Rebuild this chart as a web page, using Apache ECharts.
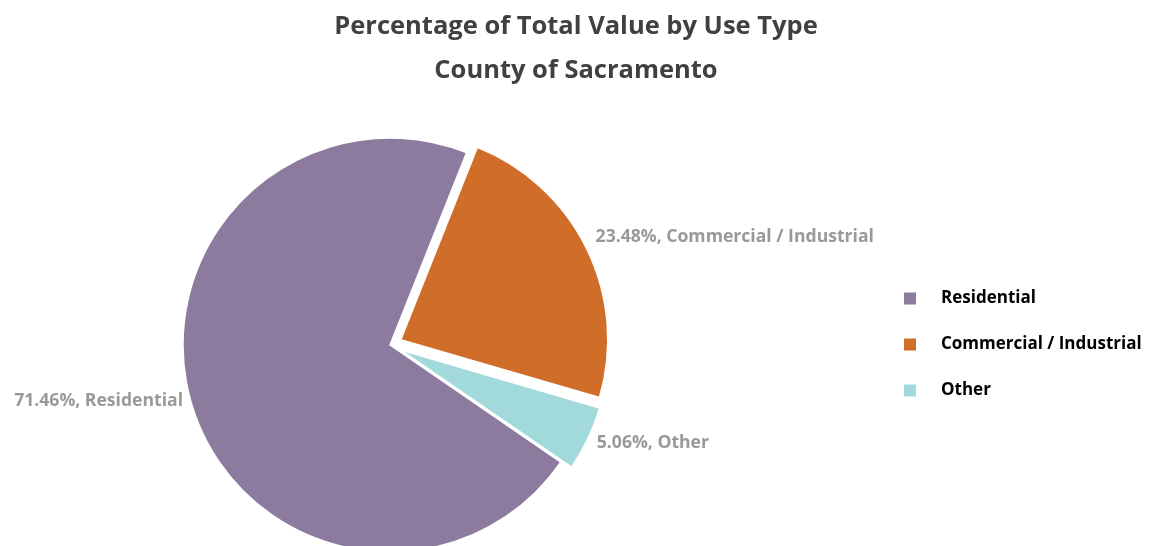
<!DOCTYPE html>
<html><head><meta charset="utf-8">
<script src="https://cdn.jsdelivr.net/npm/echarts@6/dist/echarts.min.js"></script>
<style>html,body{margin:0;padding:0;background:#fff}#c{width:1152px;height:546px}</style>
</head><body><div id="c"></div>
<script>
const categories = ['Residential', 'Commercial / Industrial', 'Other'];
const values = [71.46, 23.48, 5.06];
const colors = ['#8C7B9E', '#D06E29', '#A2DADC'];
const exploded = [false, true, true];
const titleLines = ['Percentage of Total Value by Use Type', 'County of Sacramento'];

const chart = echarts.init(document.getElementById('c'));
const FONT = '"Open Sans", Lato, sans-serif';
chart.setOption({
  animation: false,
  title: {
    text: titleLines.join('\n'),
    left: 'center',
    top: 0,
    textStyle: { fontFamily: FONT, fontSize: 25.5, fontWeight: 'bold', color: '#404040', lineHeight: 44 }
  },
  legend: {
    orient: 'vertical',
    left: 897,
    top: 285,
    icon: 'rect',
    itemWidth: 14,
    itemHeight: 14,
    itemGap: 29,
    data: categories,
    textStyle: { fontFamily: FONT, fontSize: 17, fontWeight: 'bold', color: '#000', padding: [0, 0, 0, 19] }
  },
  series: [{
    type: 'pie',
    center: [390, 345],
    radius: 207,
    startAngle: -34.44,
    clockwise: true,
    selectedMode: 'multiple',
    selectedOffset: 12,
    avoidLabelOverlap: false,
    emphasis: { disabled: true },
    itemStyle: { borderColor: '#fff', borderWidth: 1.5 },
    label: {
      show: true,
      position: 'outside',
      formatter: '{c}%, {b}',
      fontFamily: FONT,
      fontSize: 17.6,
      fontWeight: 'bold',
      color: '#999999'
    },
    labelLine: { show: false, length: 2, length2: 2 },
    labelLayout: function (p) {
      const shifts = [-5, -11, 3];
      return { dy: shifts[p.dataIndex] };
    },
    data: categories.map((n, i) => ({
      name: n, value: values[i], selected: exploded[i],
      itemStyle: { color: colors[i] }
    }))
  }]
});
</script></body></html>
